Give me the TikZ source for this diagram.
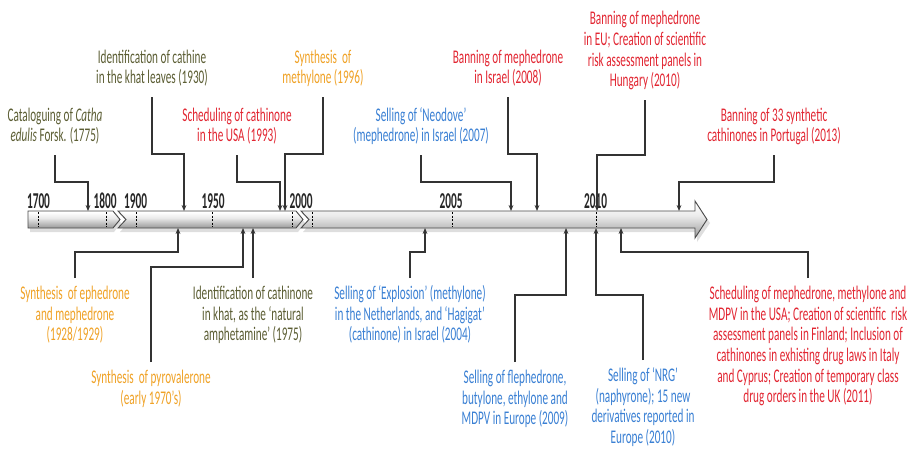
\documentclass[tikz,border=0pt]{standalone}
\usepackage{fontspec}
\setmainfont{Carlito}
\usepackage{graphicx}
\usetikzlibrary{arrows.meta}
\definecolor{cOlive}{RGB}{92,94,52}
\definecolor{cRed}{RGB}{226,38,50}
\definecolor{cOrange}{RGB}{240,162,38}
\definecolor{cBlue}{RGB}{58,128,212}
\pgfdeclareverticalshading{barshade}{100bp}{color(0bp)=(black!58); color(25bp)=(black!40); color(55bp)=(black!8); color(72bp)=(white); color(90bp)=(black!12); color(100bp)=(black!45)}
\newcommand{\lbl}[1]{\scalebox{0.58}[1]{\fontsize{14.5}{15.5}\selectfont\begin{tabular}{@{}c@{}}#1\end{tabular}}}
\newcommand{\yr}[1]{\scalebox{0.5}[1]{\fontsize{17}{19}\selectfont\bfseries #1}}
\tikzset{
  toplbl/.style={anchor=south, inner sep=5pt},
  botlbl/.style={anchor=north, inner sep=5pt},
  yearlbl/.style={anchor=base, inner sep=0pt, text=black!85},
  conn/.style={draw=black!80, line width=0.8pt, -{Stealth[length=4.5pt,width=3.6pt]}},
  barseg/.style={draw=black!70, line width=0.7pt, shading=barshade},
  tick/.style={draw=black, line width=0.7pt, dash pattern=on 1.5pt off 1.2pt},
  shadowseg/.style={fill=black, opacity=0.13, draw=none}
}
\begin{document}
\begin{tikzpicture}[x=0.75pt,y=-0.75pt]
\useasboundingbox (0,0) rectangle (913,450);
\fill[white] (0,0) rectangle (913,450);
% shadows
\fill[shadowseg] (30,214) -- (114,214) -- (121,223) -- (114,232) -- (30,232) -- cycle;
\fill[shadowseg] (120,214) -- (298,214) -- (305,223) -- (298,232) -- (120,232) -- (128,223) -- cycle;
\fill[shadowseg] (303,214) -- (697,214) -- (697,205) -- (710,223) -- (697,242) -- (697,232) -- (303,232) -- (311,223) -- cycle;
% bar segments
\path[barseg] (28,211) -- (113,211) -- (120,219.5) -- (113,228) -- (28,228) -- cycle;
\path[barseg] (118,211) -- (296,211) -- (303,219.5) -- (296,228) -- (118,228) -- (126,219.5) -- cycle;
\path[barseg] (301,211) -- (695,211) -- (695,201) -- (707,219.5) -- (695,238) -- (695,228) -- (301,228) -- (309,219.5) -- cycle;
% ticks
\foreach \x in {38,106,136,212,292,312,452,596}
  \draw[tick] (\x,212) -- (\x,227);
% year labels
\node[yearlbl] (y1700) at (38.5,208) {\yr{1700}};
\node[yearlbl] (y1800) at (105,208) {\yr{1800}};
\node[yearlbl] (y1900) at (135.5,208) {\yr{1900}};
\node[yearlbl] (y1950) at (213,208) {\yr{1950}};
\node[yearlbl] (y2000) at (301,208) {\yr{2000}};
\node[yearlbl] (y2005) at (451,208) {\yr{2005}};
\node[yearlbl] (y2010) at (595.5,208) {\yr{2010}};
% top labels
\node[toplbl, text=cOlive] (n1) at (55,155) {\lbl{Cataloguing of \textit{Catha}\\\textit{edulis} Forsk. (1775)}};
\node[toplbl, text=cOlive] (n2) at (152,97) {\lbl{Identification of cathine\\in the khat leaves (1930)}};
\node[toplbl, text=cRed] (n3) at (237,155) {\lbl{Scheduling of cathinone\\in the USA (1993)}};
\node[toplbl, text=cOrange] (n4) at (323,97) {\lbl{Synthesis \ of\\methylone (1996)}};
\node[toplbl, text=cBlue] (n5) at (421,155) {\lbl{Selling of ‘Neodove’\\(mephedrone) in Israel (2007)}};
\node[toplbl, text=cRed] (n6) at (508,97) {\lbl{Banning of mephedrone\\in Israel (2008)}};
\node[toplbl, text=cRed] (n7) at (645,100) {\lbl{Banning of mephedrone\\in EU; Creation of scientific\\risk assessment panels in\\Hungary (2010)}};
\node[toplbl, text=cRed] (n8) at (774,155) {\lbl{Banning of 33 synthetic\\cathinones in Portugal (2013)}};
% bottom labels
\node[botlbl, text=cOrange] (n9) at (75,278) {\lbl{Synthesis \ of ephedrone\\and mephedrone\\(1928/1929)}};
\node[botlbl, text=cOrange] (n10) at (151,362) {\lbl{Synthesis \ of pyrovalerone\\(early 1970’s)}};
\node[botlbl, text=cOlive] (n11) at (253,278) {\lbl{Identification of cathinone\\in khat, as the ‘natural\\amphetamine’ (1975)}};
\node[botlbl, text=cBlue] (n12) at (410,278) {\lbl{Selling of ‘Explosion’ (methylone)\\in the Netherlands, and ‘Hagigat’\\(cathinone) in Israel (2004)}};
\node[botlbl, text=cBlue] (n13) at (515,362) {\lbl{Selling of flephedrone,\\butylone, ethylone and\\MDPV in Europe (2009)}};
\node[botlbl, text=cBlue] (n14) at (643,360) {\lbl{Selling of ‘NRG’\\(naphyrone); 15 new\\derivatives reported in\\Europe (2010)}};
\node[botlbl, text=cRed] (n15) at (808,278) {\lbl{Scheduling of mephedrone, methylone and\\MDPV in the USA; Creation of scientific \ risk\\assessment panels in Finland; Inclusion of\\cathinones in exhisting drug laws in Italy\\and Cyprus; Creation of temporary class\\drug orders in the UK (2011)}};
% connector coordinates
\coordinate (k1) at (88,182);   \coordinate (t1) at (88,211);
\coordinate (k2) at (184,154);  \coordinate (t2) at (184,211);
\coordinate (k3) at (280,182);  \coordinate (t3) at (280,211);
\coordinate (k4) at (285,154);  \coordinate (t4) at (285,211);
\coordinate (k5) at (511,182);  \coordinate (t5) at (511,211);
\coordinate (k6) at (537,154);  \coordinate (t6) at (537,211);
\coordinate (k7) at (597,155);  \coordinate (t7) at (597,211);
\coordinate (k8) at (679,182);  \coordinate (t8) at (679,211);
\coordinate (k9) at (178,252);  \coordinate (t9) at (178,228);
\coordinate (k10) at (243,267); \coordinate (t10) at (243,228);
\coordinate (t11) at (253,228);
\coordinate (k12) at (425,252); \coordinate (t12) at (425,228);
\coordinate (k13) at (566,295); \coordinate (t13) at (566,228);
\coordinate (k14) at (596,295); \coordinate (t14) at (596,228);
\coordinate (k15) at (621,252); \coordinate (t15) at (621,228);
% connectors
\draw[conn] (n1.south) |- (k1) -- (t1);
\draw[conn] (n2.south) |- (k2) -- (t2);
\draw[conn] (n3.south) |- (k3) -- (t3);
\draw[conn] (n4.south) |- (k4) -- (t4);
\draw[conn] (n5.south) |- (k5) -- (t5);
\draw[conn] (n6.south) |- (k6) -- (t6);
\draw[conn] (n7.south) |- (k7) -- (t7);
\draw[conn] (n8.south) |- (k8) -- (t8);
\draw[conn] (n9.north) |- (k9) -- (t9);
\draw[conn] (n10.north) |- (k10) -- (t10);
\draw[conn] (n11.north) -- (t11);
\draw[conn] (n12.north) |- (k12) -- (t12);
\draw[conn] (n13.north) |- (k13) -- (t13);
\draw[conn] (n14.north) |- (k14) -- (t14);
\draw[conn] (n15.north) |- (k15) -- (t15);
\end{tikzpicture}
\end{document}
